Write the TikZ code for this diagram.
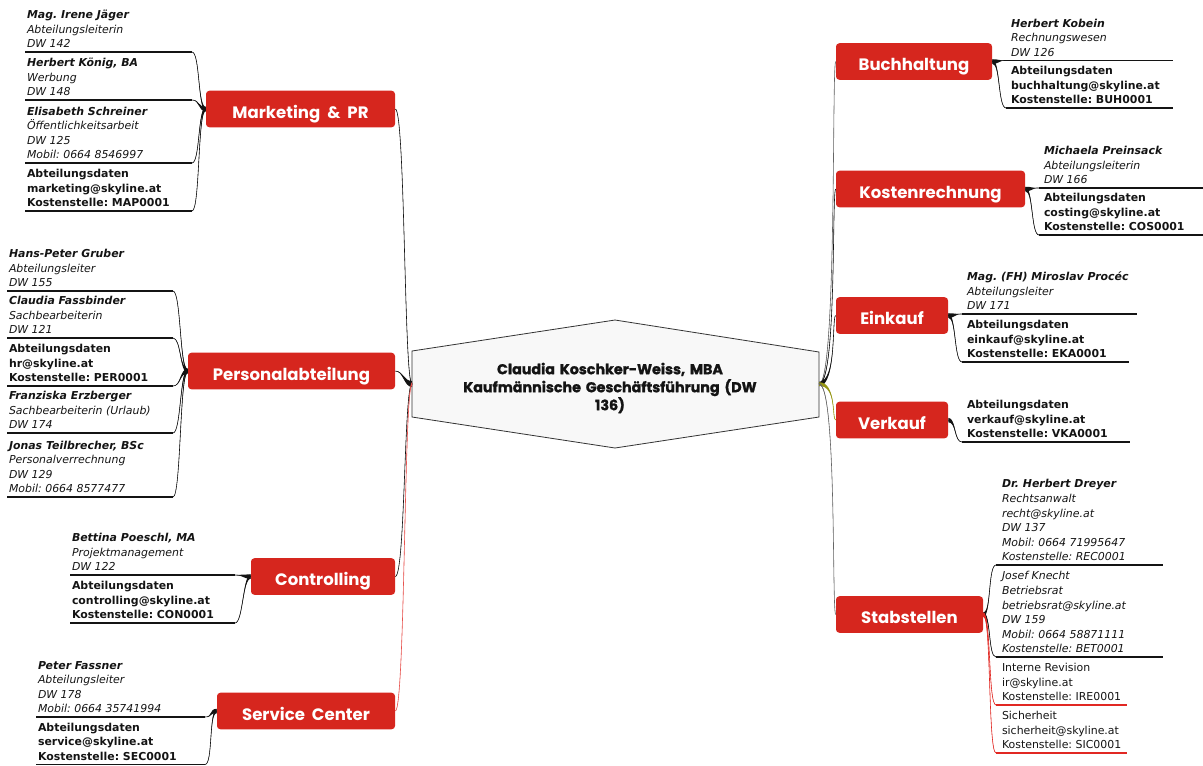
\documentclass[tikz,border=0pt]{standalone}
\usepackage{fontspec}
\setmainfont{DejaVu Sans}
\newfontfamily\deptfont[WordSpace=2]{Poppins}
\newfontfamily\ceofont[WordSpace=1.6,BoldFeatures={FakeBold=1.4}]{Poppins}
\usetikzlibrary{calc}
\definecolor{deptred}{RGB}{214,38,30}
\definecolor{linered}{RGB}{225,40,35}
\definecolor{olivebr}{RGB}{150,150,20}
\definecolor{hexfill}{RGB}{248,248,248}
\definecolor{ink}{RGB}{20,20,20}
\newcommand\bodyfont{\fontsize{8.2}{10.9}\selectfont\frenchspacing}
\newcommand\taper[6]{%
  \fill[#1] ($(#2)+(0,-#4)$) .. controls ($(#2)+(#5,-#4)$) and ($(#3)+(#6,0)$) .. (#3)
     .. controls ($(#3)+(#6,0)$) and ($(#2)+(#5,#4)$) .. ($(#2)+(0,#4)$) -- cycle;
  \draw[#1, line width=0.45pt] (#2) .. controls ($(#2)+(#5,0)$) and ($(#3)+(#6,0)$) .. (#3);
}
\tikzset{
  dept/.style={rectangle, rounded corners=2.5pt, fill=deptred, text=white,
    font=\deptfont\bfseries\fontsize{12.4}{14}\selectfont, minimum height=27.4pt, inner sep=0pt,
    text height=13.6pt, text depth=0pt},
  kid/.style={anchor=south west, inner sep=0pt, outer sep=0pt, align=left, text=ink},
  kidit/.style={kid, font=\bodyfont\itshape},
  kidbf/.style={kid, font=\bodyfont\bfseries},
  kidrm/.style={kid, font=\bodyfont},
  uline/.style={draw=ink, line width=0.9pt},
  ulred/.style={draw=linered, line width=0.9pt},
  hex/.style={draw=black!80, fill=hexfill, line width=0.6pt},
  ceo/.style={font=\ceofont\bfseries\fontsize{10.7}{13.5}\selectfont, align=center, text=ink, inner sep=0pt},
}
\begin{document}
\begin{tikzpicture}[x=0.75pt,y=-0.75pt]
\useasboundingbox (0,0) rectangle (1203,765);

% ---------- centre
\draw[hex] (615,320) -- (819,352) -- (819,417) -- (615,448) -- (412,417) -- (412,351) -- cycle;
\node[ceo] (ceo) at (610,388) {Claudia Koschker-Weiss, MBA\\Kaufmännische Geschäftsführung (DW\\136)};
\coordinate (L) at (412,384);
\coordinate (R) at (819,384);

% ---------- departments
\node[dept, minimum width=141.75pt] (mkt)  at (300.5,109)  {Marketing \& PR};
\node[dept, minimum width=155.25pt] (pers) at (291.5,371)  {Personalabteilung};
\node[dept, minimum width=108pt]    (ctrl) at (323,576.5)  {Controlling};
\node[dept, minimum width=133.5pt]  (svc)  at (306,711)    {Service Center};
\node[dept, minimum width=117pt]    (buch) at (914,61.5)   {Buchhaltung};
\node[dept, minimum width=141.75pt] (kost) at (930.5,189)  {Kostenrechnung};
\node[dept, minimum width=84pt]     (eink) at (892,315.5)  {Einkauf};
\node[dept, minimum width=84pt]     (verk) at (892,420)    {Verkauf};
\node[dept, minimum width=110.25pt] (stab) at (909.5,614.5) {Stabstellen};

% ---------- centre connectors
\taper{ink}{L}{mkt.east}{0.8}{-8}{10}
\taper{ink}{L}{pers.east}{3}{-8}{8}
\taper{ink}{L}{ctrl.east}{0.8}{-8}{10}
\taper{linered!80}{L}{svc.east}{1.8}{-8}{10}
\taper{black!60}{R}{buch.west}{0.8}{18}{-4}
\taper{ink}{R}{kost.west}{0.8}{18}{-4}
\taper{ink}{R}{eink.west}{2.2}{18}{-4}
\taper{olivebr}{R}{verk.west}{1.8}{18}{-4}
\taper{black!60}{R}{stab.west}{0.8}{18}{-4}

% ---------- Marketing & PR
\node[kidit] (m1) at (27,52) {\textbf{Mag. Irene Jäger}\\Abteilungsleiterin\\DW 142\strut};
\node[kidit] (m2) at (27,100) {\textbf{Herbert König, BA}\\Werbung\\DW 148\strut};
\node[kidit] (m3) at (27,163) {\textbf{Elisabeth Schreiner}\\Öffentlichkeitsarbeit\\DW 125\\Mobil: 0664 8546997\strut};
\node[kidbf] (m4) at (27,211) {Abteilungsdaten\\marketing@skyline.at\\Kostenstelle: MAP0001\strut};
\foreach \k/\y in {m1/52,m2/100,m3/163,m4/211}{
  \coordinate (\k a) at (25,\y); \coordinate (\k b) at (192,\y);
  \draw[uline] (\k a) -- (\k b);
  \taper{ink}{mkt.west}{\k b}{2.2}{-8}{8}
}

% ---------- Personalabteilung
\node[kidit] (p1) at (9,291) {\textbf{Hans-Peter Gruber}\\Abteilungsleiter\\DW 155\strut};
\node[kidit] (p2) at (9,338) {\textbf{Claudia Fassbinder}\\Sachbearbeiterin\\DW 121\strut};
\node[kidbf] (p3) at (9,386) {Abteilungsdaten\\hr@skyline.at\\Kostenstelle: PER0001\strut};
\node[kidit] (p4) at (9,433) {\textbf{Franziska Erzberger}\\Sachbearbeiterin (Urlaub)\\DW 174\strut};
\node[kidit] (p5) at (9,497) {\textbf{Jonas Teilbrecher, BSc}\\Personalverrechnung\\DW 129\\Mobil: 0664 8577477\strut};
\foreach \k/\y in {p1/291,p2/338,p3/386,p4/433,p5/497}{
  \coordinate (\k a) at (7,\y); \coordinate (\k b) at (173,\y);
  \draw[uline] (\k a) -- (\k b);
  \taper{ink}{pers.west}{\k b}{2.2}{-8}{8}
}

% ---------- Controlling
\node[kidit] (c1) at (72,575) {\textbf{Bettina Poeschl, MA}\\Projektmanagement\\DW 122\strut};
\node[kidbf] (c2) at (72,623) {Abteilungsdaten\\controlling@skyline.at\\Kostenstelle: CON0001\strut};
\foreach \k/\y in {c1/575,c2/623}{
  \coordinate (\k a) at (70,\y); \coordinate (\k b) at (235,\y);
  \draw[uline] (\k a) -- (\k b);
  \taper{ink}{ctrl.west}{\k b}{2.2}{-8}{8}
}

% ---------- Service Center
\node[kidit] (s1) at (38,717) {\textbf{Peter Fassner}\\Abteilungsleiter\\DW 178\\Mobil: 0664 35741994\strut};
\node[kidbf] (s2) at (38,764.5) {Abteilungsdaten\\service@skyline.at\\Kostenstelle: SEC0001\strut};
\foreach \k/\y in {s1/717,s2/764.5}{
  \coordinate (\k a) at (36,\y); \coordinate (\k b) at (205,\y);
  \draw[uline] (\k a) -- (\k b);
  \taper{ink}{svc.west}{\k b}{2.2}{-8}{8}
}

% ---------- Buchhaltung
\node[kidit] (b1) at (1011,60.5) {\textbf{Herbert Kobein}\\Rechnungswesen\\DW 126\strut};
\node[kidbf] (b2) at (1011,108) {Abteilungsdaten\\buchhaltung@skyline.at\\Kostenstelle: BUH0001\strut};
\foreach \k/\y in {b1/60.5,b2/108}{
  \coordinate (\k a) at (1006,\y); \coordinate (\k b) at (1173,\y);
  \draw[uline] (\k a) -- (\k b);
  \taper{ink}{buch.east}{\k a}{2.2}{8}{-8}
}

% ---------- Kostenrechnung
\node[kidit] (k1) at (1044,188) {\textbf{Michaela Preinsack}\\Abteilungsleiterin\\DW 166\strut};
\node[kidbf] (k2) at (1044,235) {Abteilungsdaten\\costing@skyline.at\\Kostenstelle: COS0001\strut};
\foreach \k/\y in {k1/188,k2/235}{
  \coordinate (\k a) at (1039,\y); \coordinate (\k b) at (1203,\y);
  \draw[uline] (\k a) -- (\k b);
  \taper{ink}{kost.east}{\k a}{2.2}{8}{-8}
}

% ---------- Einkauf
\node[kidit] (e1) at (967,314) {\textbf{Mag. (FH) Miroslav Procéc}\\Abteilungsleiter\\DW 171\strut};
\node[kidbf] (e2) at (967,362) {Abteilungsdaten\\einkauf@skyline.at\\Kostenstelle: EKA0001\strut};
\coordinate (e1a) at (962,314); \coordinate (e1b) at (1137,314);
\coordinate (e2a) at (962,362); \coordinate (e2b) at (1129,362);
\draw[uline] (e1a) -- (e1b);
\draw[uline] (e2a) -- (e2b);
\taper{ink}{eink.east}{e1a}{2.2}{8}{-8}
\taper{ink}{eink.east}{e2a}{2.2}{8}{-8}

% ---------- Verkauf
\node[kidbf] (v1) at (967,442) {Abteilungsdaten\\verkauf@skyline.at\\Kostenstelle: VKA0001\strut};
\coordinate (v1a) at (962,442); \coordinate (v1b) at (1130,442);
\draw[uline] (v1a) -- (v1b);
\taper{ink}{verk.east}{v1a}{2.2}{8}{-8}

% ---------- Stabstellen
\node[kidit] (t1) at (1002,565) {\textbf{Dr. Herbert Dreyer}\\Rechtsanwalt\\recht@skyline.at\\DW 137\\Mobil: 0664 71995647\\Kostenstelle: REC0001\strut};
\node[kidit] (t2) at (1002,657) {Josef Knecht\\Betriebsrat\\betriebsrat@skyline.at\\DW 159\\Mobil: 0664 58871111\\Kostenstelle: BET0001\strut};
\node[kidrm] (t3) at (1002,705) {Interne Revision\\ir@skyline.at\\Kostenstelle: IRE0001\strut};
\node[kidrm] (t4) at (1002,753) {Sicherheit\\sicherheit@skyline.at\\Kostenstelle: SIC0001\strut};
\coordinate (t1a) at (996,565); \coordinate (t1b) at (1163,565);
\coordinate (t2a) at (996,657); \coordinate (t2b) at (1163,657);
\coordinate (t3a) at (996,705); \coordinate (t3b) at (1127,705);
\coordinate (t4a) at (996,753); \coordinate (t4b) at (1127,753);
\draw[uline] (t1a) -- (t1b);
\draw[uline] (t2a) -- (t2b);
\draw[ulred] (t3a) -- (t3b);
\draw[ulred] (t4a) -- (t4b);
\taper{ink}{stab.east}{t1a}{2.2}{8}{-8}
\taper{ink}{stab.east}{t2a}{2.2}{8}{-8}
\taper{linered}{stab.east}{t3a}{2.2}{8}{-8}
\taper{linered}{stab.east}{t4a}{2.2}{8}{-8}
\end{tikzpicture}
\end{document}
